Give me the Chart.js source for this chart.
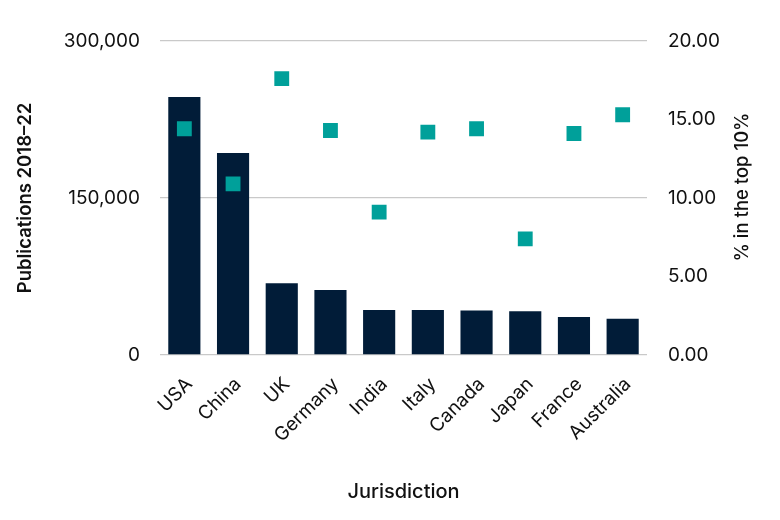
<!DOCTYPE html>
<html>
<head>
<meta charset="utf-8">
<script src="https://cdn.jsdelivr.net/npm/chart.js@4"></script>
<style>
  html, body { margin: 0; padding: 0; background: #fff; }
  #wrap { width: 780px; height: 520px; }
</style>
</head>
<body>
<div id="wrap"><canvas id="grafico"></canvas></div>
<script>
// datos
const jurisdicciones = ["USA", "China", "UK", "Germany", "India", "Italy", "Canada", "Japan", "France", "Australia"];
const publicaciones = [246400, 192900, 68600, 62200, 43000, 43000, 42400, 41800, 36300, 34700];
const topDiez = [14.41, 10.90, 17.60, 14.30, 9.10, 14.20, 14.41, 7.40, 14.11, 15.30];

const FUENTE = "Inter, 'Liberation Sans', sans-serif";

// titulo del eje derecho (se lee de abajo hacia arriba)
const tituloDerecho = {
    id: "tituloDerecho",
    afterDraw(chart) {
        const ctx = chart.ctx;
        ctx.save();
        ctx.translate(742, 187);
        ctx.rotate(-Math.PI / 2);
        ctx.font = "500 18.5px " + FUENTE;
        ctx.fillStyle = "#111";
        ctx.textAlign = "center";
        ctx.textBaseline = "middle";
        ctx.fillText("% in the top 10%", 0, 0);
        ctx.restore();
    }
};

new Chart(document.getElementById("grafico"), {
    data: {
        labels: jurisdicciones,
        datasets: [
            {
                type: "line",
                label: "% in the top 10%",
                data: topDiez,
                yAxisID: "y1",
                showLine: false,
                pointStyle: "rect",
                pointRadius: 10.5,
                pointHoverRadius: 10.5,
                pointBackgroundColor: "#00A09A",
                pointBorderColor: "#00A09A",
                pointBorderWidth: 0,
                order: 0
            },
            {
                type: "bar",
                label: "Publications 2018–22",
                data: publicaciones,
                yAxisID: "y",
                backgroundColor: "#011C38",
                barPercentage: 0.66,
                categoryPercentage: 1,
                order: 1
            }
        ]
    },
    options: {
        responsive: true,
        maintainAspectRatio: false,
        animation: false,
        layout: { padding: { top: 41, left: 0, right: 0, bottom: 0 } },
        plugins: {
            legend: { display: false },
            tooltip: { enabled: false }
        },
        scales: {
            x: {
                grid: { display: false },
                border: { display: false },
                ticks: {
                    color: "#111",
                    font: { family: FUENTE, size: 19 },
                    maxRotation: 45,
                    minRotation: 45,
                    padding: 10,
                    labelOffset: 5
                },
                title: {
                    display: true,
                    text: "Jurisdiction",
                    color: "#111",
                    font: { family: FUENTE, size: 20, weight: "500" },
                    padding: { top: 0, bottom: 16 }
                },
                afterFit(scale) { scale.height = 165; }
            },
            y: {
                position: "left",
                min: 0,
                max: 300000,
                grid: { color: "#c9c9c9", lineWidth: 1.3, drawTicks: false },
                border: { display: false },
                ticks: {
                    stepSize: 150000,
                    padding: 20,
                    color: "#111",
                    font: { family: FUENTE, size: 19 },
                    callback: v => v.toLocaleString("en-US")
                },
                title: {
                    display: true,
                    text: "Publications 2018–22",
                    color: "#111",
                    font: { family: FUENTE, size: 18.5, weight: "600" },
                    padding: { top: 14, bottom: 0 }
                },
                afterFit(scale) { scale.width = 160; }
            },
            y1: {
                position: "right",
                min: 0,
                max: 20,
                grid: { drawOnChartArea: false, drawTicks: false },
                border: { display: false },
                ticks: {
                    stepSize: 5,
                    padding: 21,
                    color: "#111",
                    font: { family: FUENTE, size: 19 },
                    callback: v => v.toFixed(2)
                },
                afterFit(scale) { scale.width = 133; }
            }
        }
    },
    plugins: [tituloDerecho]
});
</script>
</body>
</html>
